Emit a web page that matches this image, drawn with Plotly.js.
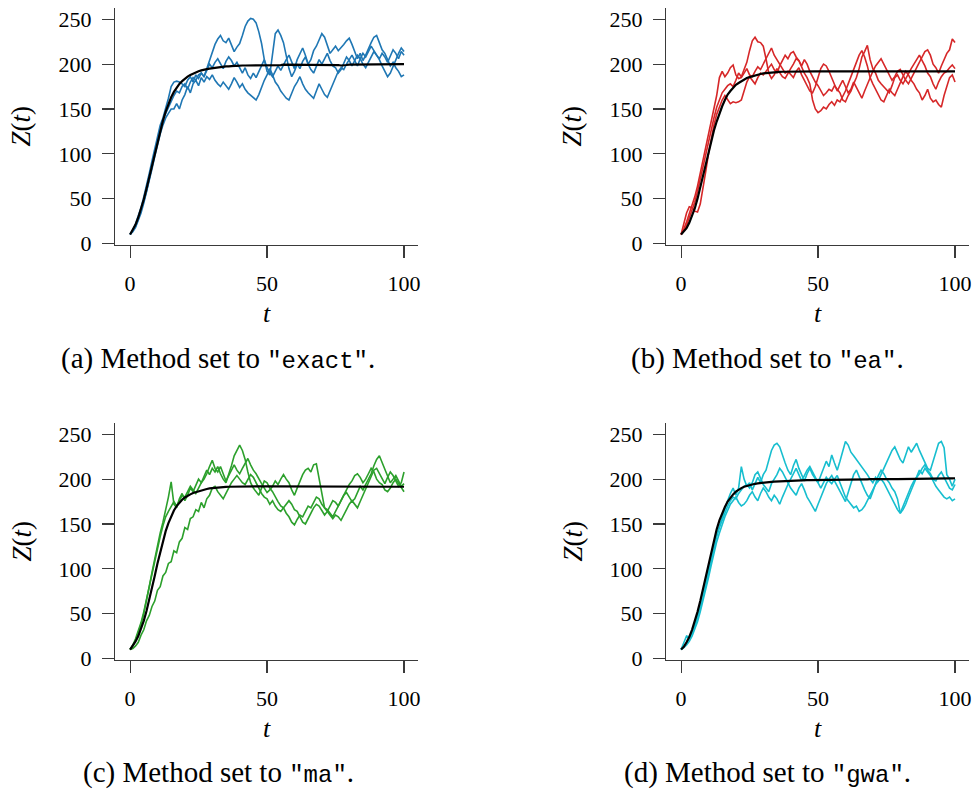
<!DOCTYPE html>
<html>
<head>
<meta charset="utf-8">
<script src="https://cdn.plot.ly/plotly-3.0.1.min.js"></script>
<style>
html,body{margin:0;padding:0;background:#fff;}
#chart{width:976px;height:790px;}
</style>
</head>
<body>
<div id="chart"></div>
<script>
// ---------- time grid ----------
const timeGrid = [0,1,2,3,4,5,6,7,8,9,10,11,12,13,14,15,16,17,18,19,20,21,22,23,24,25,26,27,28,29,30,
31,32,33,34,35,36,37,38,39,40,41,42,43,44,45,46,47,48,49,50,51,52,53,54,55,56,57,58,59,60,
61,62,63,64,65,66,67,68,69,70,71,72,73,74,75,76,77,78,79,80,81,82,83,84,85,86,87,88,89,90,
91,92,93,94,95,96,97,98,99,100];

// ---------- tick labels ----------
const xTicks = [0, 50, 100];
const yTicks = [0, 50, 100, 150, 200, 250];

// ---------- (a) method "exact" ----------
const exactRun1 = [10,14,19,27,36,47,58,71,86,101,116,128,138,145,152,160,
165,170,168,175,178,172,180,185,182,188,190,186,195,204,212,
222,228,232,226,224,229,221,214,219,223,
232,242,248,251,250,246,236,223,205,192,
188,212,234,238,232,224,208,195,186,192,
200,195,203,208,200,194,190,198,205,200,
206,212,204,198,196,190,194,202,208,204,
198,204,210,206,200,196,202,208,214,210,
206,212,208,202,210,216,212,206,214,210];
const exactRun2 = [10,15,22,30,40,52,64,78,92,106,120,132,140,150,162,175,
180,181,180,178,175,182,186,180,188,184,190,186,194,200,196,
202,206,200,195,203,208,204,198,202,196,
190,196,188,184,190,185,192,198,205,196,
190,186,192,198,193,200,205,210,202,195,
205,212,218,210,200,205,215,220,228,234,
230,222,212,216,220,215,218,222,226,229,
222,215,206,212,204,210,218,224,230,232,
224,216,212,205,198,202,196,192,186,188];
const exactRun3 = [10,13,18,25,34,45,57,70,83,97,110,122,132,140,145,150,
150,156,150,160,166,175,168,178,182,176,185,180,186,183,188,
182,178,175,180,176,172,178,185,180,174,
178,172,168,165,162,160,166,175,182,188,
195,188,180,176,170,166,162,160,168,175,
180,186,178,172,168,165,162,170,178,172,
166,163,170,178,185,192,196,194,200,205,
210,204,198,206,212,208,214,220,215,210,
205,198,192,186,190,198,206,212,218,214];
const exactMean = [10,15,21,29,38,49,61,74,87,100,113,
125,137,147,156,163,169,174,178,181,184,
186,188,189.5,191,192,193,194,194.5,195,195.5,
196,196.5,197,197,197.5,197.5,198,198,198,198.5,
198.5,198.5,198.5,198.5,199,199,199,199,199,199,
199,199,199,199,199,199.5,199.5,199.5,199.5,199.5,
199.5,199.5,199.5,199.5,199.5,199.5,199.5,199.5,199.5,199.5,
199.5,199.5,199.5,199.5,199,199,198.5,198.5,199,199.5,
199.5,199.5,200,200,200,200,200,200,200,200,
200,200,200,200,200,200,200,200,200,200];

// ---------- (b) method "ea" ----------
const eaRun1 = [10,16,24,33,42,52,64,78,92,106,120,134,148,165,185,192,
186,190,196,199,188,184,185,190,195,188,186,192,197,194,200,
205,212,218,210,205,200,195,190,192,188,
185,192,196,188,182,175,170,168,175,185,
195,200,198,192,185,178,170,176,182,175,
168,172,180,174,168,162,170,178,186,192,
198,202,206,200,194,188,182,186,192,194,
188,182,178,185,190,196,203,208,214,216,
210,200,196,190,198,206,212,216,228,224];
const eaRun2 = [10,14,20,28,36,46,58,72,86,100,115,128,140,152,160,168,
172,176,178,175,182,190,186,194,202,215,226,230,225,224,220,
206,190,184,188,195,190,186,184,190,195,
200,206,204,198,205,200,192,185,180,176,
170,165,168,172,170,176,172,168,160,158,
165,170,178,185,195,208,214,221,205,195,
190,182,178,175,172,168,176,185,188,182,
178,184,190,195,200,205,210,204,198,190,
186,178,172,180,186,190,192,196,199,195];
const eaRun3 = [10,22,34,41,40,36,35,44,60,80,100,118,132,144,152,160,
165,160,156,158,157,158,160,170,180,186,182,178,185,190,188,
192,196,200,194,190,198,204,210,206,212,
214,208,204,196,190,185,178,160,150,146,
148,152,150,155,158,154,160,158,164,170,
178,186,195,202,210,215,208,198,185,178,
172,166,160,158,166,172,168,165,172,180,
186,192,188,182,178,172,168,160,165,172,
162,158,160,155,152,165,175,185,188,180];
const eaMean = [10,13,17,23,30,39,50,63,76,89,102,
114,126,136,145,153,160,166,170,174,177,
179,181,183,184.5,185.5,186.5,187.5,188.3,189,189.6,
190,190.4,190.8,191,191.2,191.4,191.5,191.6,191.7,191.8,
192,192,192,192,192,192,192,192,192,192,
192,192,192,192,192,192,192,192,192,192,
192,192,191.8,191.8,191.8,191.7,191.7,191.7,191.8,191.8,
191.8,191.9,192,192,192,192,192,192,192,192,
192,192,192,192,192,192,192,192,192,192,
192,192,192,192,192,192,192,192,192,192];

// ---------- (c) method "ma" ----------
const maRun1 = [10,14,20,28,38,50,64,80,96,112,128,140,152,165,180,197,
172,168,178,184,176,182,190,186,194,200,196,204,210,205,212,
208,214,206,200,196,205,215,226,232,238,
232,222,208,196,190,186,182,190,198,196,
190,186,180,175,170,168,162,158,152,149,
155,160,158,165,170,168,175,180,178,172,
168,166,162,158,164,170,176,182,185,180,
175,178,185,192,188,194,200,206,215,222,
226,218,210,202,196,200,204,198,192,195];
const maRun2 = [10,15,22,30,40,52,66,80,95,110,124,136,148,158,164,170,
175,170,176,182,180,186,192,188,184,190,196,200,206,214,221,
212,208,214,205,198,204,210,216,210,206,
212,218,223,216,210,206,200,195,190,185,
188,192,198,194,200,205,200,196,188,182,
190,198,205,210,212,208,216,217,200,185,
168,164,160,156,160,158,154,160,166,172,
176,172,168,175,182,188,196,204,210,212,
206,200,195,202,208,204,198,192,196,208];
const maRun3 = [10,11,14,18,26,32,42,48,58,64,76,80,92,96,106,108,
120,118,130,134,146,144,156,158,166,164,174,168,178,182,190,
192,186,182,178,184,190,196,200,204,200,
196,194,200,205,202,196,190,184,180,178,
172,176,170,166,164,168,172,176,172,166,
164,158,152,150,156,162,168,172,170,165,
160,164,170,176,174,170,176,182,188,194,
198,204,206,202,196,200,206,212,208,200,
196,194,188,186,190,196,200,195,190,186];
const maMean = [10,14,19,25,33,42,53,65,78,92,106,
119,131,142,151,159,165,170,174,177,179.5,
181.5,183,184.5,185.5,186.5,187.5,188.3,189,189.6,190,
190.4,190.8,191,191.2,191.4,191.5,191.6,191.7,191.8,191.9,
192,192,192,192,192,192,192,192,192,192,
192,192,192,192,192,192,192,192,192,192,
192,192,192,192,192,192,192,192,192,192,
192,192,192,192,192,191.8,191.8,191.8,191.8,191.8,
191.8,191.8,191.8,191.8,191.8,191.8,191.8,191.8,191.7,191.7,
191.7,191.6,191.6,191.6,191.6,191.5,191.5,191.5,191.5,191.5];

// ---------- (d) method "gwa" ----------
const gwaRun1 = [10,18,25,24,28,36,48,60,74,88,102,116,128,138,148,158,
168,176,184,190,182,190,214,200,192,196,188,195,202,196,205,
210,222,232,238,240,236,226,218,210,205,
215,222,212,205,198,206,212,205,200,196,
204,212,220,214,227,218,210,220,232,242,
238,230,226,222,218,214,210,205,200,196,
202,198,205,212,220,226,232,236,228,222,
218,226,236,230,235,240,232,225,218,212,
210,220,232,240,242,235,205,200,192,200];
const gwaRun2 = [10,13,17,22,28,36,45,56,68,82,96,110,124,136,146,155,
162,170,176,180,178,184,188,192,194,190,196,205,208,200,194,
190,186,195,200,205,212,208,202,196,190,
186,182,190,195,188,180,175,170,164,172,
180,188,195,200,204,198,192,186,180,175,
185,195,205,210,202,195,188,182,178,186,
195,204,210,206,200,196,190,186,178,162,
166,172,180,188,196,204,210,206,212,208,
204,198,192,188,184,180,178,180,176,178];
const gwaRun3 = [10,12,15,19,25,32,41,52,64,77,90,104,118,130,140,150,
158,165,172,176,180,174,170,172,176,182,186,180,176,184,190,
186,180,176,182,178,172,180,188,194,200,
206,212,205,198,204,210,214,208,202,196,
190,196,202,198,195,200,204,196,188,180,
176,172,168,170,164,166,170,176,182,188,
194,198,200,196,190,184,178,172,166,162,
170,178,186,192,198,202,206,212,216,210,
206,200,198,204,208,202,196,190,188,194];
const gwaMean = [10,13,18,24,32,41,52,64,77,91,105,
119,132,144,154,162,169,175,179.5,183,186,
188.5,190,191.5,192.5,193.5,194.2,194.8,195.3,195.8,196.2,
196.5,196.8,197,197.3,197.5,197.7,197.9,198,198.2,198.4,
198.5,198.6,198.7,198.8,198.9,199,199,199,199,199,
199,199,199,199,199.2,199.3,199.4,199.5,199.5,199.5,
199.5,199.5,199.5,199.5,199.5,199.6,199.7,199.8,199.9,200,
200,200,200,200,200,200,200,200,200,200,
200,200,200,200.2,200.3,200.3,200.3,200.2,200,200,
200,200,200.2,200.4,200.5,200.6,200.7,200.8,200.9,201];

// ---------- panel definitions ----------
const panelLabels = ['(a)', '(b)', '(c)', '(d)'];
const methodNames = ['exact', 'ea', 'ma', 'gwa'];
const panelColors = ['#1f77b4', '#d62728', '#2ca02c', '#17becf'];
const panelRuns = [
  [exactRun1, exactRun2, exactRun3],
  [eaRun1, eaRun2, eaRun3],
  [maRun1, maRun2, maRun3],
  [gwaRun1, gwaRun2, gwaRun3]
];
const panelMeans = [exactMean, eaMean, maMean, gwaMean];

// ---------- geometry (pixels in the 976x790 page) ----------
const W = 976, H = 790;
const colPx = [[115, 418], [666, 969]];
const rowPx = [[8, 245], [423, 660]];
const serif = "'Liberation Serif', 'Times New Roman', serif";
const mono = "Liberation Mono, DejaVu Sans Mono, monospace";
const axisColor = '#3a3a3a';

const data = [];
const layout = {
  width: W, height: H,
  margin: {l: 0, r: 0, t: 0, b: 0},
  paper_bgcolor: '#fff', plot_bgcolor: '#fff',
  showlegend: false,
  hovermode: false,
  font: {family: serif, color: '#000'},
  annotations: []
};

for (let p = 0; p < 4; p++) {
  const col = p % 2, row = Math.floor(p / 2);
  const sfx = p === 0 ? '' : String(p + 1);
  const xa = 'x' + sfx, ya = 'y' + sfx;
  panelRuns[p].forEach(run => {
    data.push({x: timeGrid, y: run, xaxis: xa, yaxis: ya, type: 'scatter', mode: 'lines',
      line: {color: panelColors[p], width: 1.6}});
  });
  data.push({x: timeGrid, y: panelMeans[p], xaxis: xa, yaxis: ya, type: 'scatter', mode: 'lines',
    line: {color: '#000', width: 2.2}});

  const common = {
    showline: true, linecolor: axisColor, linewidth: 1.1,
    ticks: 'outside', ticklen: 12, tickwidth: 1.1, tickcolor: axisColor,
    showgrid: false, zeroline: false, fixedrange: true,
    tickfont: {family: serif, size: 22, color: '#000'},
    ticklabelstandoff: 6
  };
  layout['xaxis' + sfx] = Object.assign({}, common, {
    domain: [colPx[col][0] / W, colPx[col][1] / W],
    range: [-5.5, 105.1],
    tickvals: xTicks, ticktext: xTicks.map(String),
    anchor: ya
  });
  layout['yaxis' + sfx] = Object.assign({}, common, {
    domain: [1 - rowPx[row][1] / H, 1 - rowPx[row][0] / H],
    range: [-1.7, 262.6],
    tickvals: yTicks, ticktext: yTicks.map(String),
    anchor: xa
  });

  const cx = (colPx[col][0] + colPx[col][1]) / 2;
  const cy = (rowPx[row][0] + rowPx[row][1]) / 2;
  // x-axis title
  layout.annotations.push({xref: 'paper', yref: 'paper', x: cx / W, y: 1 - (rowPx[row][1] + 68) / H,
    xanchor: 'center', yanchor: 'middle', showarrow: false,
    text: '<i>t</i>', font: {family: serif, size: 26, color: '#000'}});
  // y-axis title
  layout.annotations.push({xref: 'paper', yref: 'paper', x: (colPx[col][0] - 94) / W, y: 1 - cy / H,
    xanchor: 'center', yanchor: 'middle', showarrow: false, textangle: -90,
    text: '<i>Z</i>(<i>t</i>)', font: {family: serif, size: 27, color: '#000'}});
  // caption
  const capX = col === 0 ? 218 : 767;
  const capY = row === 0 ? 358 : 772;
  layout.annotations.push({xref: 'paper', yref: 'paper', x: capX / W, y: 1 - capY / H,
    xanchor: 'center', yanchor: 'middle', showarrow: false,
    text: panelLabels[p] + ' Method set to <span style="font-family:' + mono + ';font-size:24px">"' + methodNames[p] + '"</span>.',
    font: {family: serif, size: 29, color: '#000'}});
}

Plotly.newPlot('chart', data, layout, {staticPlot: true, displayModeBar: false});
</script>
</body>
</html>
